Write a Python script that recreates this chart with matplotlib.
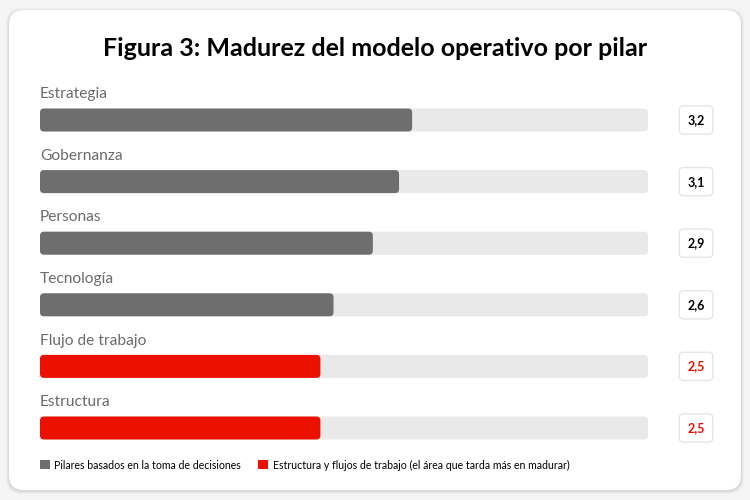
import matplotlib
matplotlib.use("Agg")
import matplotlib.pyplot as plt
from matplotlib.patches import FancyBboxPatch, Patch

plt.rcParams['font.family'] = ['Lato', 'DejaVu Sans']

# data
pilares = ["Estrategia", "Gobernanza", "Personas", "Tecnología", "Flujo de trabajo", "Estructura"]
valores = [3.2, 3.1, 2.9, 2.6, 2.5, 2.5]
etiquetas = ["3,2", "3,1", "2,9", "2,6", "2,5", "2,5"]
grupo = ["dec", "dec", "dec", "dec", "est", "est"]
leyenda = ["Pilares basados en la toma de decisiones",
           "Estructura y flujos de trabajo (el área que tarda más en madurar)"]

GRIS = "#6e6e6e"
ROJO = "#eb1000"
PISTA = "#e9e9e9"
colores = {"dec": GRIS, "est": ROJO}

W, H = 750, 500
xmin, xmax = 0.36, 5.0

fig = plt.figure(figsize=(7.5, 5), dpi=100)
fig.patch.set_facecolor("#f5f5f5")

# card with a faint shadow
for k, a in enumerate([0.025, 0.035, 0.05]):
    off = 3 - k
    fig.patches.append(FancyBboxPatch(((9 - off) / W, (10 - off - 1) / H), (732 + 2 * off) / W, (480 + 2 * off) / H,
                                      boxstyle="round,pad=0,rounding_size=0.02", mutation_aspect=W / H,
                                      transform=fig.transFigure,
                                      facecolor="black", edgecolor="none", alpha=a, zorder=0))
fig.patches.append(FancyBboxPatch((9 / W, 10 / H), 732 / W, 480 / H,
                                  boxstyle="round,pad=0,rounding_size=0.02", mutation_aspect=W / H,
                                  transform=fig.transFigure,
                                  facecolor="white", edgecolor="none", zorder=1))

# axes: row i centred at 120 + 61.6*i px
paso = 61.6
top = 120 - paso / 2
alto = paso * 6
ax = fig.add_axes([40 / W, 1 - (top + alto) / H, 608 / W, alto / H])
ax.set_xlim(xmin, xmax)
ax.set_ylim(5.5, -0.5)
ax.axis("off")
ax.set_zorder(2)

alto_barra = 23 / paso
r = 4 * (xmax - xmin) / 608
aspecto = (6 / alto) / ((xmax - xmin) / 608)

ys = list(range(len(pilares)))
pista = ax.barh(ys, [xmax - xmin] * len(ys), left=xmin, height=alto_barra, color=PISTA)
barras = ax.barh(ys, [v - xmin for v in valores], left=xmin, height=alto_barra,
                 color=[colores[g] for g in grupo])

# swap the plain rectangles for rounded ones
for p in list(pista) + list(barras):
    fb = FancyBboxPatch((p.get_x(), p.get_y()), p.get_width(), p.get_height(),
                        boxstyle="round,pad=0,rounding_size=%f" % r, mutation_aspect=aspecto,
                        facecolor=p.get_facecolor(), edgecolor="none")
    p.remove()
    ax.add_patch(fb)

for i, nombre in enumerate(pilares):
    ax.text(xmin, i - 0.42, nombre, ha="left", va="center", fontsize=11.2, color="#6b6b6b")
    col = ROJO if grupo[i] == "est" else "black"
    ax.text(1.079, i, etiquetas[i], transform=ax.get_yaxis_transform(), ha="center", va="center",
            fontsize=9, fontweight="bold", color=col, clip_on=False,
            bbox=dict(boxstyle="round,pad=0.65,rounding_size=0.35", facecolor="white",
                      edgecolor="#e6e6e6", linewidth=1))

fig.text(0.5, 1 - 56 / H, "Figura 3: Madurez del modelo operativo por pilar",
         ha="center", va="baseline", fontsize=18, fontweight="bold", color="black")

handles = [Patch(facecolor=GRIS, edgecolor="none"), Patch(facecolor=ROJO, edgecolor="none")]
fig.legend(handles, leyenda, loc="center left", bbox_to_anchor=(30 / W, 1 - 465 / H), ncol=2,
           frameon=False, fontsize=7.6, handlelength=0.95, handleheight=0.95, handletextpad=0.4,
           columnspacing=1.7)

fig.savefig("out.png", dpi=100, facecolor=fig.get_facecolor())
